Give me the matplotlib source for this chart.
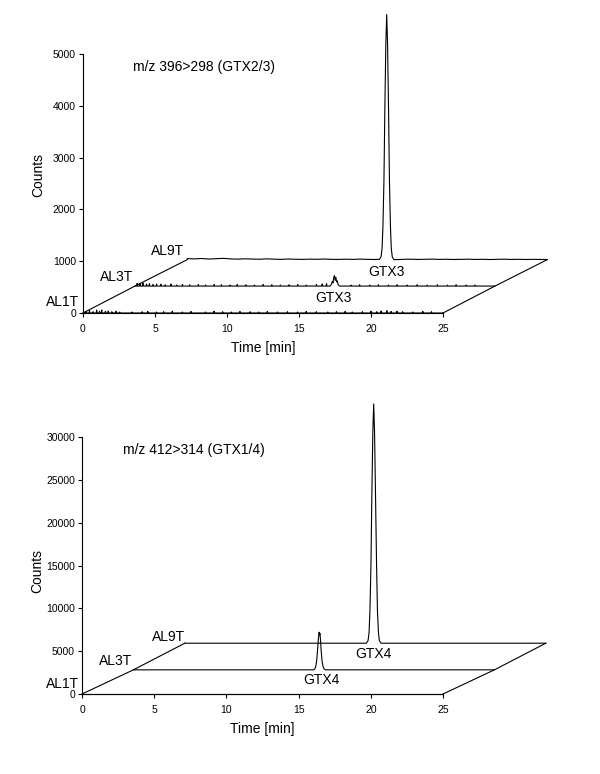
import numpy as np
import matplotlib
matplotlib.use("Agg")
import matplotlib.pyplot as plt

plt.rcParams['font.family'] = ['Liberation Sans', 'DejaVu Sans']

# ---------------- data ----------------
sample_names = ["AL1T", "AL3T", "AL9T"]
time_ticks = [0, 5, 10, 15, 20, 25]
run_length = 25.0

# ---- Panel A: m/z 396>298 (GTX2/3) ----
a_title = "m/z 396>298 (GTX2/3)"
a_yticks = [0, 1000, 2000, 3000, 4000, 5000]
a_peak_label = "GTX3"

# AL1T: flat baseline with noise spikes (time, counts above baseline)
a_al1t_spike_t = [0.2, 0.45, 0.7, 0.95, 1.15, 1.3, 1.55, 1.75, 2.0, 2.3, 2.55, 3.4, 4.1, 4.5,
                  5.1, 5.6, 6.2, 6.9, 7.5, 8.5, 9.1, 9.7, 10.3, 10.9, 11.6, 12.2, 12.8, 13.5,
                  14.2, 14.9, 15.5, 16.2, 17.0, 17.6, 18.2, 18.7, 19.4, 20.0, 20.4, 20.7,
                  21.1, 21.4, 21.8, 22.2, 22.9, 23.6, 24.2]
a_al1t_spike_h = [30, 45, 25, 55, 35, 60, 30, 40, 25, 35, 20, 20, 25, 30,
                  20, 25, 35, 20, 30, 20, 35, 25, 20, 30, 25, 20, 30, 20,
                  25, 20, 30, 25, 20, 25, 30, 20, 25, 35, 25, 40,
                  45, 30, 35, 25, 20, 30, 25]

# AL3T: noise spikes plus small GTX3 signal
a_al3t_spike_t = [0.15, 0.35, 0.55, 0.8, 1.0, 1.25, 1.5, 1.8, 2.1, 2.5, 2.9, 3.3, 3.8, 4.4,
                  4.9, 5.5, 6.0, 6.6, 7.1, 7.7, 8.3, 8.9, 9.5, 10.1, 10.7, 11.3, 11.9,
                  12.6, 13.0, 13.3, 15.0, 15.6, 16.3, 16.9, 17.6, 18.2, 18.9, 19.6,
                  20.3, 21.0, 21.7, 22.3, 23.0, 23.6]
a_al3t_spike_h = [50, 40, 60, 35, 45, 30, 40, 35, 25, 40, 20, 30, 25, 30,
                  20, 30, 25, 20, 30, 25, 20, 30, 25, 20, 25, 30, 20,
                  30, 40, 45, 20, 25, 20, 25, 20, 25, 20, 25,
                  20, 25, 20, 25, 20, 20]
a_al3t_peak_t = [13.55, 13.65, 13.7, 13.75, 13.8, 13.85, 13.9, 13.95, 14.0, 14.05, 14.1, 14.2]
a_al3t_peak_y = [0, 40, 90, 60, 160, 200, 110, 170, 80, 100, 30, 0]

# AL9T: slightly wavy baseline (every 0.5 min) plus GTX3 peak
a_al9t_base_t = [i * 0.5 for i in range(51)]
a_al9t_base_y = [20, 15, 22, 12, 18, 25, 14, 10, 16, 12, 8, 15, 10, 6, 12, 8, 5, 10,
                 7, 12, 6, 4, 9, 5, 10, 6, 3, 8, 0, 0, 6, 9, 4, 7, 10, 5, 8, 3, 6, 9,
                 4, 7, 2, 6, 9, 4, 7, 3, 6, 4, 2]
a_al9t_peak_t = [13.35, 13.46, 13.53, 13.59, 13.66, 13.72, 13.79, 13.85, 13.91, 13.98,
                 14.04, 14.11, 14.17, 14.24, 14.35]
a_al9t_peak_y = [0, 50, 210, 640, 1540, 2870, 4170, 4730, 4170, 2870, 1540, 640, 210, 50, 0]

# ---- Panel B: m/z 412>314 (GTX1/4) ----
b_title = "m/z 412>314 (GTX1/4)"
b_yticks = [0, 5000, 10000, 15000, 20000, 25000, 30000]
b_peak_label = "GTX4"

b_al1t_t = [0.0, 25.0]
b_al1t_y = [0, 0]
b_al3t_t = [0.0, 12.45, 12.55, 12.63, 12.7, 12.76, 12.82, 12.86, 12.89, 12.92, 12.96,
            13.0, 13.06, 13.13, 13.2, 13.3, 25.0]
b_al3t_y = [0, 0, 80, 400, 1200, 2500, 3800, 4390, 4100, 4250, 3400, 2300, 1100, 400,
            120, 0, 0]
b_al9t_t = [0.0, 12.58, 12.69, 12.76, 12.82, 12.89, 12.95, 13.02, 13.08, 13.14, 13.21,
            13.28, 13.34, 13.41, 13.47, 13.58, 25.0]
b_al9t_y = [0, 0, 310, 1230, 3780, 9070, 16940, 24650, 27930, 24650, 16940, 9070,
            3780, 1230, 310, 0, 0]

# pseudo-3D stacking offsets for AL1T, AL3T, AL9T
a_shift_t = [0.0, 3.61, 7.24]
a_shift_c = [0, 520, 1030]
b_shift_t = [0.0, 3.56, 7.12]
b_shift_c = [0, 2820, 5930]


def spiky(base_t, base_y, spike_t, spike_h, peak_t=None, peak_y=None, w=0.03):
    t = list(base_t)
    y = list(base_y)
    for st, sh in zip(spike_t, spike_h):
        b = float(np.interp(st, base_t, base_y))
        t += [st - w, st, st + w]
        y += [b, b + sh, b]
    if peak_t is not None:
        lo, hi = peak_t[0], peak_t[-1]
        keep = [(tt, yy) for tt, yy in zip(t, y) if not (lo <= tt <= hi)]
        keep += [(tt, float(np.interp(tt, base_t, base_y)) + yy) for tt, yy in zip(peak_t, peak_y)]
        t = [k[0] for k in keep]
        y = [k[1] for k in keep]
    order = np.argsort(t)
    return np.asarray(t)[order], np.asarray(y)[order]


a_traces = [
    spiky([0, run_length], [0, 0], a_al1t_spike_t, a_al1t_spike_h),
    spiky([0, run_length], [0, 0], a_al3t_spike_t, a_al3t_spike_h, a_al3t_peak_t, a_al3t_peak_y),
    spiky(a_al9t_base_t, a_al9t_base_y, [], [], a_al9t_peak_t, a_al9t_peak_y),
]
b_traces = [
    (np.asarray(b_al1t_t), np.asarray(b_al1t_y)),
    (np.asarray(b_al3t_t), np.asarray(b_al3t_y)),
    (np.asarray(b_al9t_t), np.asarray(b_al9t_y)),
]

# ---------------- figure ----------------
W, H = 600, 774
fig = plt.figure(figsize=(W / 100, H / 100), dpi=100)

axA = fig.add_axes([83 / W, 1 - 313 / H, (443 - 83) / W, (313 - 54) / H])
axB = fig.add_axes([82 / W, 1 - 694 / H, (443 - 82) / W, (694 - 437) / H])

lw = 0.8
tick_fs = 7.5
lab_fs = 10


def draw_panel(ax, traces, shift_t, shift_c, yticks, title, peak_label,
               title_xy, name_xy, peak_xy, ylabel_y):
    ymax = yticks[-1]
    ax.set_xlim(0, run_length)
    ax.set_ylim(0, ymax)
    for (t, y), dx, dy in zip(traces, shift_t, shift_c):
        ax.plot(t + dx, y + dy, color='black', lw=lw, clip_on=False, zorder=3)
    # floor edges
    ax.plot(shift_t, shift_c, color='black', lw=lw, clip_on=False)
    ax.plot(np.asarray(shift_t) + run_length, shift_c, color='black', lw=lw, clip_on=False)

    for s in ['top', 'right']:
        ax.spines[s].set_visible(False)
    ax.spines['left'].set_bounds(0, ymax)
    ax.spines['bottom'].set_bounds(0, run_length)
    for s in ['left', 'bottom']:
        ax.spines[s].set_linewidth(0.8)
    ax.set_xticks(time_ticks)
    ax.set_yticks(yticks)
    ax.tick_params(axis='both', direction='out', length=3, width=0.8,
                   labelsize=tick_fs, pad=2)
    ax.tick_params(axis='x', pad=5)
    ax.set_xlabel("Time [min]", fontsize=lab_fs)
    ax.set_ylabel("Counts", fontsize=lab_fs)
    ax.xaxis.set_label_coords(0.5, -0.11)
    ax.yaxis.set_label_coords(-0.104, ylabel_y)
    ax.patch.set_visible(False)

    ax.text(title_xy[0], title_xy[1], title, fontsize=lab_fs, ha='left', va='center')
    for name, (x, y) in zip(sample_names, name_xy):
        ax.text(x, y, name, fontsize=lab_fs, ha='right', va='center')
    for (x, y) in peak_xy:
        ax.text(x, y, peak_label, fontsize=lab_fs, ha='center', va='center')


draw_panel(axA, a_traces, a_shift_t, a_shift_c, a_yticks, a_title, a_peak_label,
           title_xy=(3.45, 4750),
           name_xy=[(-0.25, 215), (3.5, 700), (7.0, 1200)],
           peak_xy=[(17.36, 290), (21.1, 790)],
           ylabel_y=0.533)

draw_panel(axB, b_traces, b_shift_t, b_shift_c, b_yticks, b_title, b_peak_label,
           title_xy=(2.85, 28500),
           name_xy=[(-0.2, 1200), (3.5, 3850), (7.15, 6660)],
           peak_xy=[(16.6, 1640), (20.2, 4670)],
           ylabel_y=0.48)

fig.savefig("out.png", dpi=100)
